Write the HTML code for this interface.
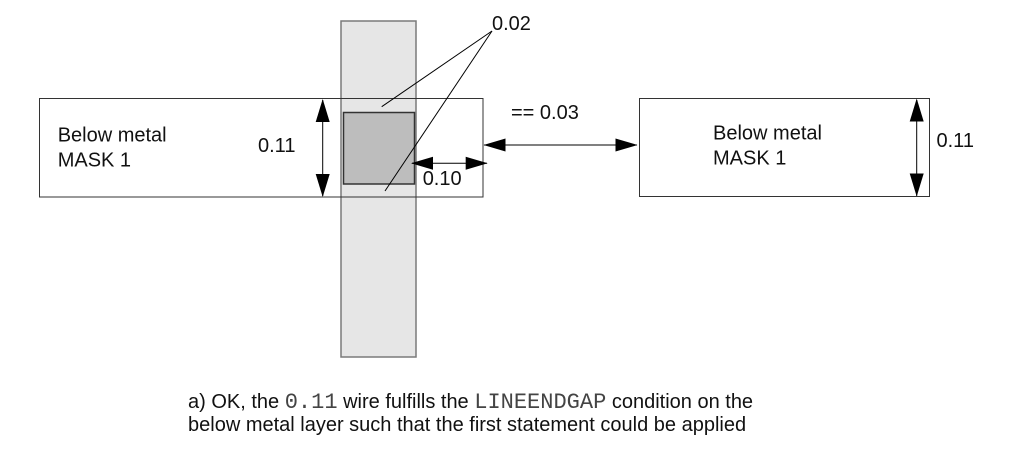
<!DOCTYPE html>
<html>
<head>
<meta charset="utf-8">
<style>
  html,body{margin:0;padding:0;background:#fff;}
  svg{display:block;}
  .t{font-family:"Liberation Sans",Arial,sans-serif;font-size:20px;fill:#111;}
  .m{font-family:"Liberation Mono","Courier New",monospace;font-size:22px;fill:#444;}
</style>
</head>
<body>
<svg width="1013" height="466" viewBox="0 0 1013 466" xmlns="http://www.w3.org/2000/svg">
  <!-- vertical strip -->
  <rect x="341" y="21" width="75" height="336" fill="#e6e6e6" stroke="#7a7a7a" stroke-width="1.5"/>
  <!-- dark square -->
  <rect x="343.5" y="112.5" width="71" height="71.5" fill="#bdbdbd" stroke="#333" stroke-width="1.5"/>
  <!-- left box -->
  <rect x="39.5" y="98.5" width="443.5" height="98.5" fill="none" stroke="#333" stroke-width="1"/>
  <!-- right box -->
  <rect x="639.5" y="98.5" width="290" height="98" fill="none" stroke="#333" stroke-width="1"/>

  <!-- left vertical dim arrow -->
  <line x1="322.7" y1="100" x2="322.7" y2="196" stroke="#000" stroke-width="1"/>
  <polygon points="322.7,99 315.7,122 329.7,122" fill="#000"/>
  <polygon points="322.7,197 315.7,174 329.7,174" fill="#000"/>

  <!-- right vertical dim arrow -->
  <line x1="916.7" y1="100" x2="916.7" y2="196" stroke="#000" stroke-width="1"/>
  <polygon points="916.7,98.5 909.7,121.5 923.7,121.5" fill="#000"/>
  <polygon points="916.7,196.5 909.7,173.5 923.7,173.5" fill="#000"/>

  <!-- 0.10 arrow -->
  <line x1="412" y1="163.3" x2="487" y2="163.3" stroke="#000" stroke-width="1"/>
  <polygon points="411,163.3 433,156.8 433,169.8" fill="#000"/>
  <polygon points="487.7,163.3 465.7,156.8 465.7,169.8" fill="#000"/>

  <!-- == 0.03 double arrow -->
  <line x1="484" y1="145" x2="637" y2="145" stroke="#000" stroke-width="1"/>
  <polygon points="483.5,145 505.5,138.5 505.5,151.5" fill="#000"/>
  <polygon points="637.5,145 615.5,138.5 615.5,151.5" fill="#000"/>

  <!-- leader lines for 0.02 -->
  <line x1="492" y1="31" x2="381.7" y2="106.7" stroke="#000" stroke-width="1"/>
  <line x1="492" y1="31" x2="385" y2="191" stroke="#000" stroke-width="1"/>

  <!-- labels -->
  <text class="t" x="492" y="30">0.02</text>
  <text class="t" x="57.7" y="141.7">Below metal</text>
  <text class="t" x="57.7" y="166.5">MASK 1</text>
  <text class="t" x="258" y="152">0.11</text>
  <text class="t" x="422.7" y="185">0.10</text>
  <text class="t" x="511" y="119">== 0.03</text>
  <text class="t" x="713" y="139.5">Below metal</text>
  <text class="t" x="713" y="164.5">MASK 1</text>
  <text class="t" x="936.5" y="147">0.11</text>

  <!-- caption -->
  <text x="188" y="408"><tspan class="t">a) OK, the </tspan><tspan class="m">0.11</tspan><tspan class="t"> wire fulfills the </tspan><tspan class="m">LINEENDGAP</tspan><tspan class="t"> condition on the</tspan></text>
  <text class="t" x="188" y="431">below metal layer such that the first statement could be applied</text>
</svg>
</body>
</html>
